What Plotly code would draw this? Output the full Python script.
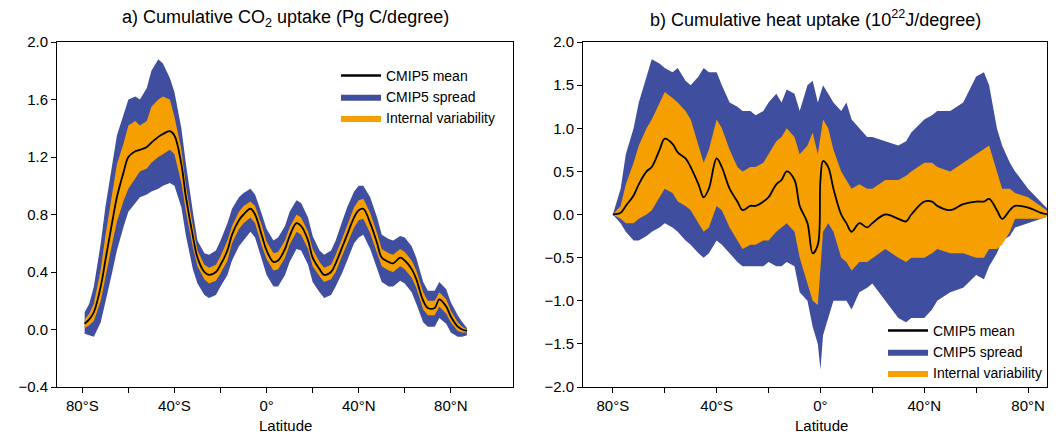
import plotly.graph_objects as go

BLUE = "#3F4E9E"
ORANGE = "#F5A000"

# ---- Panel a: cumulative CO2 uptake ----
a_lat = [-79, -77, -75, -72, -70, -67, -65, -62, -60, -57, -55, -52, -50, -47, -45, -42, -40, -37, -35, -32, -30, -27, -25, -22, -20, -17, -15, -12, -10, -7, -5, -2, 0, 3, 5, 8, 10, 13, 15, 18, 20, 23, 25, 28, 30, 33, 35, 38, 40, 42, 45, 48, 50, 53, 55, 58, 60, 63, 65, 68, 70, 73, 75, 78, 80, 83, 85, 87]
a_mean = [0.04, 0.07, 0.12, 0.3, 0.48, 0.75, 0.92, 1.1, 1.2, 1.24, 1.25, 1.27, 1.3, 1.34, 1.36, 1.38, 1.35, 1.15, 0.92, 0.65, 0.5, 0.4, 0.38, 0.4, 0.45, 0.55, 0.66, 0.76, 0.8, 0.84, 0.8, 0.65, 0.55, 0.47, 0.48, 0.56, 0.65, 0.74, 0.72, 0.62, 0.5, 0.42, 0.38, 0.4, 0.46, 0.58, 0.66, 0.78, 0.83, 0.84, 0.74, 0.6, 0.5, 0.47, 0.46, 0.5, 0.48, 0.42, 0.35, 0.2, 0.15, 0.15, 0.21, 0.16, 0.09, 0.02, 0.0, -0.01]
a_int_hi = [0.07, 0.11, 0.18, 0.42, 0.65, 0.95, 1.15, 1.3, 1.42, 1.45, 1.42, 1.45, 1.55, 1.6, 1.62, 1.6, 1.48, 1.25, 1.0, 0.72, 0.55, 0.45, 0.43, 0.45, 0.51, 0.62, 0.72, 0.82, 0.86, 0.89, 0.86, 0.72, 0.61, 0.53, 0.54, 0.62, 0.71, 0.8, 0.78, 0.68, 0.56, 0.47, 0.43, 0.45, 0.52, 0.64, 0.72, 0.85, 0.9, 0.91, 0.81, 0.67, 0.56, 0.53, 0.52, 0.56, 0.54, 0.48, 0.41, 0.26, 0.2, 0.2, 0.26, 0.21, 0.13, 0.05, 0.02, 0.0]
a_int_lo = [0.01, 0.03, 0.06, 0.2, 0.35, 0.6, 0.75, 0.9, 0.98, 1.05, 1.1, 1.12, 1.16, 1.2, 1.22, 1.25, 1.22, 1.02, 0.82, 0.57, 0.44, 0.35, 0.32, 0.34, 0.39, 0.48, 0.6, 0.7, 0.74, 0.78, 0.74, 0.58, 0.49, 0.41, 0.42, 0.5, 0.59, 0.68, 0.66, 0.56, 0.44, 0.37, 0.33, 0.35, 0.4, 0.52, 0.6, 0.71, 0.76, 0.77, 0.67, 0.53, 0.44, 0.41, 0.4, 0.44, 0.42, 0.36, 0.29, 0.14, 0.1, 0.1, 0.16, 0.11, 0.05, -0.01, -0.02, -0.02]
a_spr_hi = [0.12, 0.18, 0.3, 0.6, 0.85, 1.15, 1.35, 1.5, 1.6, 1.62, 1.6, 1.68, 1.8, 1.88, 1.85, 1.75, 1.65, 1.4, 1.15, 0.82, 0.62, 0.53, 0.52, 0.55, 0.62, 0.74, 0.84, 0.92, 0.95, 0.98, 0.94, 0.8, 0.7, 0.62, 0.64, 0.72, 0.82, 0.9, 0.88, 0.78, 0.65, 0.55, 0.52, 0.55, 0.62, 0.76, 0.85, 0.96, 1.0, 1.0, 0.92, 0.78, 0.66, 0.63, 0.62, 0.65, 0.64, 0.58, 0.5, 0.33, 0.27, 0.27, 0.33, 0.28, 0.19, 0.1, 0.05, 0.01]
a_spr_lo = [-0.03, -0.04, -0.05, 0.05, 0.2, 0.4, 0.55, 0.72, 0.82, 0.88, 0.92, 0.94, 0.96, 0.98, 1.0, 1.02, 1.0, 0.85, 0.65, 0.42, 0.32, 0.24, 0.22, 0.24, 0.3, 0.38, 0.48, 0.58, 0.62, 0.68, 0.64, 0.48, 0.38, 0.3, 0.3, 0.38, 0.47, 0.56, 0.55, 0.45, 0.33, 0.26, 0.22, 0.24, 0.3, 0.4, 0.48, 0.6, 0.64, 0.66, 0.56, 0.42, 0.33, 0.3, 0.3, 0.34, 0.32, 0.26, 0.18, 0.05, 0.02, 0.02, 0.08, 0.04, -0.02, -0.05, -0.05, -0.04]

# ---- Panel b: cumulative heat uptake ----
b_lat = [-80, -77, -75, -72, -70, -67, -65, -62, -60, -57, -55, -52, -50, -47, -45, -43, -40, -38, -35, -32, -30, -27, -25, -22, -20, -17, -15, -13, -10, -8, -5, -3, -1, 0, 1, 3, 5, 8, 10, 12, 15, 18, 20, 25, 30, 33, 35, 40, 43, 45, 50, 55, 60, 63, 65, 68, 70, 73, 75, 80, 85, 88]
b_mean = [0.0, 0.02, 0.1, 0.22, 0.35, 0.5, 0.55, 0.75, 0.88, 0.82, 0.72, 0.65, 0.55, 0.35, 0.2, 0.3, 0.65, 0.55, 0.3, 0.15, 0.05, 0.1, 0.1, 0.15, 0.2, 0.35, 0.4, 0.5, 0.4, 0.1, -0.1, -0.45, -0.35, 0.4, 0.62, 0.55, 0.3, 0.0, -0.1, -0.2, -0.1, -0.15, -0.1, 0.0, -0.05, -0.08, 0.0, 0.15, 0.15, 0.1, 0.05, 0.12, 0.15, 0.15, 0.18, 0.05, -0.05, 0.05, 0.1, 0.08, 0.02, 0.0]
b_int_hi = [0.0, 0.1, 0.35, 0.6, 0.8, 1.0, 1.1, 1.3, 1.42, 1.35, 1.3, 1.2, 1.1, 0.8, 0.6, 0.75, 1.1, 1.0, 0.75, 0.55, 0.5, 0.55, 0.55, 0.6, 0.7, 0.85, 0.9, 1.0, 0.9, 0.7, 0.8, 0.95, 0.7, 0.9, 1.1, 1.0, 0.75, 0.5, 0.4, 0.3, 0.35, 0.3, 0.3, 0.4, 0.4, 0.45, 0.5, 0.6, 0.6, 0.55, 0.5, 0.6, 0.7, 0.75, 0.8, 0.5, 0.3, 0.3, 0.25, 0.2, 0.1, 0.03]
b_int_lo = [0.0, -0.05, -0.1, -0.1, -0.05, 0.0, 0.05, 0.2, 0.3, 0.25, 0.15, 0.1, 0.05, -0.1, -0.2, -0.15, 0.1, 0.05, -0.15, -0.3, -0.4, -0.35, -0.35, -0.3, -0.3, -0.2, -0.15, -0.1, -0.2, -0.5, -0.8, -1.0, -1.05, -0.6, -0.2, -0.1, -0.2, -0.5, -0.55, -0.65, -0.55, -0.55, -0.5, -0.4, -0.5, -0.55, -0.5, -0.5, -0.45, -0.4, -0.45, -0.45, -0.5, -0.5, -0.4, -0.4, -0.35, -0.2, -0.05, -0.05, -0.05, -0.02]
b_spr_hi = [0.0, 0.3, 0.7, 1.0, 1.3, 1.6, 1.8, 1.75, 1.7, 1.65, 1.7, 1.55, 1.5, 1.6, 1.7, 1.65, 1.65, 1.5, 1.3, 1.25, 1.2, 1.2, 1.15, 1.2, 1.3, 1.4, 1.3, 1.45, 1.4, 1.2, 1.5, 1.55, 1.3, 1.4, 1.5, 1.4, 1.3, 1.2, 1.3, 1.1, 1.0, 0.9, 0.9, 0.85, 0.8, 0.85, 0.95, 1.1, 1.15, 1.2, 1.2, 1.3, 1.6, 1.65, 1.5, 1.0, 0.8, 0.6, 0.5, 0.3, 0.15, 0.05]
b_spr_lo = [0.0, -0.1, -0.2, -0.3, -0.3, -0.25, -0.2, -0.15, -0.1, -0.15, -0.2, -0.3, -0.35, -0.45, -0.5, -0.45, -0.3, -0.35, -0.45, -0.55, -0.6, -0.6, -0.6, -0.6, -0.55, -0.6, -0.6, -0.55, -0.6, -0.9, -1.0, -1.3, -1.5, -1.8, -1.4, -1.2, -1.0, -1.0, -1.0, -1.1, -0.9, -0.85, -0.8, -1.0, -1.2, -1.25, -1.2, -1.2, -1.1, -1.0, -0.9, -0.85, -0.7, -0.75, -0.6, -0.45, -0.3, -0.25, -0.15, -0.1, -0.05, -0.02]

lat_ticks = [-80, -60, -40, -20, 0, 20, 40, 60, 80]
lat_labels = ["80°S", "", "40°S", "", "0°", "", "40°N", "", "80°N"]

fig = go.Figure()

def band(lat, lo, hi, color, name, xa, ya, legend, show):
    fig.add_trace(go.Scatter(x=lat + lat[::-1], y=hi + lo[::-1], fill="toself",
                             fillcolor=color, line=dict(width=0, color=color),
                             mode="lines", name=name, xaxis=xa, yaxis=ya,
                             legend=legend, showlegend=show, hoverinfo="skip"))

for lat, mean, ilo, ihi, slo, shi, xa, ya, lg in [
        (a_lat, a_mean, a_int_lo, a_int_hi, a_spr_lo, a_spr_hi, "x", "y", "legend"),
        (b_lat, b_mean, b_int_lo, b_int_hi, b_spr_lo, b_spr_hi, "x2", "y2", "legend2")]:
    fig.add_trace(go.Scatter(x=[None], y=[None], mode="lines", line=dict(color="black", width=2.5),
                             name="CMIP5 mean", xaxis=xa, yaxis=ya, legend=lg))
    band(lat, slo, shi, BLUE, "CMIP5 spread", xa, ya, lg, True)
    band(lat, ilo, ihi, ORANGE, "Internal variability", xa, ya, lg, True)
    fig.add_trace(go.Scatter(x=lat, y=mean, mode="lines", line=dict(color="black", width=1.8, shape="spline"),
                             xaxis=xa, yaxis=ya, showlegend=False))

W, H, O = 1040, 427, 8
def px(p):
    return (p - O) / W
def py(p):
    return 1 - (p - O) / H

ax = dict(showline=True, mirror=True, linecolor="black", linewidth=1, ticks="outside",
          ticklen=5, tickcolor="black", showgrid=False, zeroline=False,
          tickfont=dict(size=15, color="black"))
T = py(42)
B = py(387)
fig.update_layout(
    width=W, height=H, margin=dict(l=0, r=0, t=0, b=0, autoexpand=False),
    plot_bgcolor="white", paper_bgcolor="white",
    font=dict(family="Liberation Sans, Arial", color="black", size=15),
    xaxis=dict(ax, domain=[px(57), px(513)], range=[-91, 107], tickvals=lat_ticks, ticktext=lat_labels),
    yaxis=dict(ax, domain=[B, T], range=[-0.4, 2.0], tickvals=[-0.4, 0, 0.4, 0.8, 1.2, 1.6, 2.0],
               tickformat=".1f", anchor="x"),
    xaxis2=dict(ax, domain=[px(583), px(1047)], range=[-91.5, 87.3], tickvals=lat_ticks, ticktext=lat_labels,
                anchor="y2"),
    yaxis2=dict(ax, domain=[B, T], range=[-2.0, 2.0], dtick=0.5, tickformat=".1f", anchor="x2"),
    legend=dict(x=px(500), y=py(60), xanchor="right", yanchor="top", bgcolor="rgba(0,0,0,0)",
                font=dict(size=14), tracegroupgap=0, itemwidth=40),
    legend2=dict(x=px(1047), y=py(315), xanchor="right", yanchor="top", bgcolor="rgba(0,0,0,0)",
                 font=dict(size=14), tracegroupgap=0, itemwidth=40),
    annotations=[
        dict(text="a) Cumulative CO<sub>2</sub> uptake (Pg C/degree)", x=px(285), y=py(18),
             xref="paper", yref="paper", xanchor="center", yanchor="middle", showarrow=False, font=dict(size=18)),
        dict(text="b) Cumulative heat uptake (10<sup>22</sup>J/degree)", x=px(815), y=py(18),
             xref="paper", yref="paper", xanchor="center", yanchor="middle", showarrow=False, font=dict(size=18)),
        dict(text="Latitude", x=px(285), y=py(425), xref="paper", yref="paper",
             xanchor="center", yanchor="middle", showarrow=False, font=dict(size=15)),
        dict(text="Latitude", x=px(821), y=py(425), xref="paper", yref="paper",
             xanchor="center", yanchor="middle", showarrow=False, font=dict(size=15)),
    ],
)
fig.write_html("out.html")
